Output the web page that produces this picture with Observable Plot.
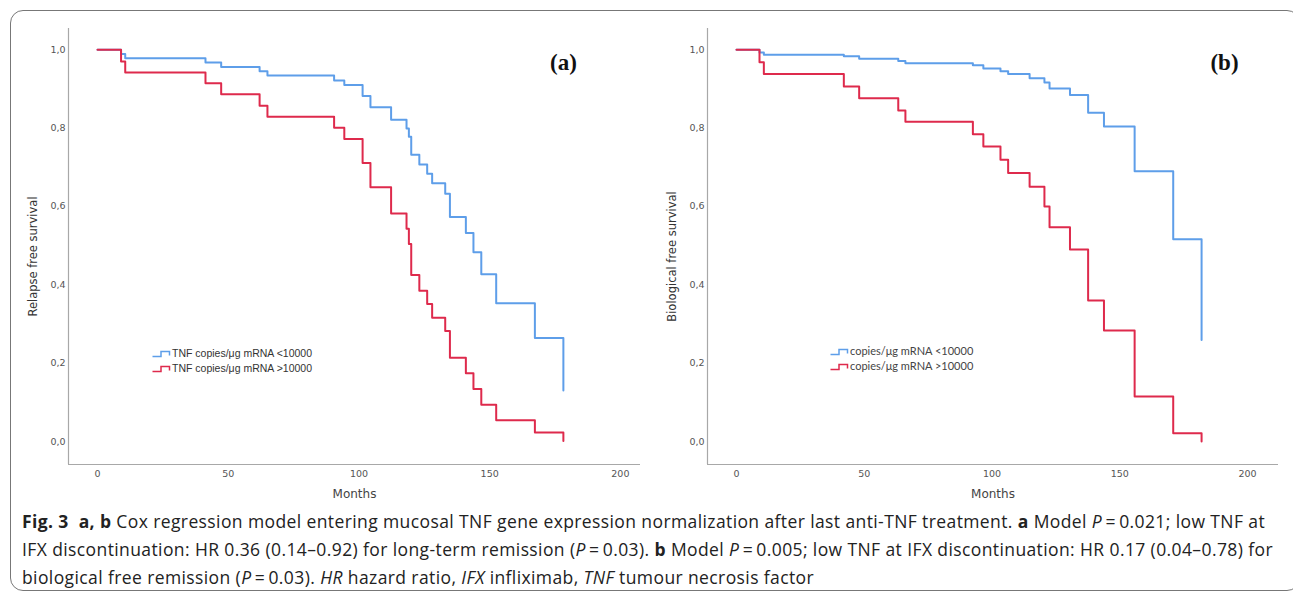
<!DOCTYPE html>
<html>
<head>
<meta charset="utf-8">
<script src="https://cdn.jsdelivr.net/npm/d3@7"></script>
<script src="https://cdn.jsdelivr.net/npm/@observablehq/plot@0.6"></script>
<style>
  html, body { margin: 0; padding: 0; background: #fff; }
  #wrap { position: relative; width: 1293px; height: 594px; overflow: hidden; font-family: "DejaVu Sans", sans-serif; }
  #frame { position: absolute; left: 10px; top: 10px; width: 1290px; height: 581px; border: 1px solid #777; border-radius: 13px; box-sizing: border-box; }
  .panel { position: absolute; top: 0; }
  .legend { position: absolute; font-family: "Liberation Sans", Arial, sans-serif; font-size: 10.5px; color: #333; line-height: 15px; white-space: nowrap; }
  .legend svg { vertical-align: -1px; margin-right: 1px; }
  #caption { position: absolute; left: 22px; top: 507px; font-family: "Open Sans", sans-serif; font-size: 17.5px; line-height: 28px; color: #222; white-space: nowrap; }
  #caption b { font-weight: 700; }
</style>
</head>
<body>
<div id="wrap">
  <div id="frame"></div>
  <div id="pa" class="panel" style="left:0px"></div>
  <div id="pb" class="panel" style="left:640px"></div>
  <div id="lega" class="legend" style="left:152px; top:346px"></div>
  <div id="legb" class="legend" style="left:830px; top:343px; font-family:'Lato',sans-serif; font-size:11px; color:#444"></div>
  <div id="caption"></div>
</div>
<script>
// ---- data ----
const aMonths = [0, 9, 10.6, 41.3, 47.3, 62, 65, 90.5, 94.4, 101.4, 104.4, 112.3, 118.2, 119.1, 120, 123.1, 126.1, 128, 133, 134.8, 140.9, 143.8, 146.8, 152.5, 167.3, 178.2];
const aLow  = [1.0, 0.989, 0.978, 0.967, 0.956, 0.945, 0.934, 0.921, 0.910, 0.882, 0.853, 0.821, 0.799, 0.778, 0.732, 0.707, 0.683, 0.659, 0.632, 0.573, 0.532, 0.483, 0.427, 0.353, 0.264, 0.130];
const aHigh = [1.0, 0.970, 0.942, 0.914, 0.886, 0.857, 0.829, 0.801, 0.772, 0.711, 0.649, 0.582, 0.543, 0.504, 0.425, 0.385, 0.351, 0.316, 0.282, 0.214, 0.174, 0.134, 0.094, 0.054, 0.023, 0.001];

const bMonths = [0, 9, 10.7, 42, 48, 63.3, 66.1, 92.5, 96.6, 103.3, 106.3, 114.7, 120.5, 122.5, 130.5, 137.6, 143.8, 155.8, 170.9, 182];
const bLow  = [1.0, 0.993, 0.987, 0.983, 0.977, 0.971, 0.965, 0.960, 0.952, 0.945, 0.938, 0.927, 0.916, 0.901, 0.884, 0.839, 0.804, 0.690, 0.516, 0.259];
const bHigh = [1.0, 0.968, 0.938, 0.906, 0.876, 0.845, 0.816, 0.784, 0.753, 0.719, 0.685, 0.650, 0.600, 0.547, 0.490, 0.360, 0.283, 0.115, 0.021, 0.0];

const xTicks = [0, 50, 100, 150, 200];
const yTicks = [0, 0.2, 0.4, 0.6, 0.8, 1.0];

const legendA = ["TNF copies/\u03bcg mRNA <10000", "TNF copies/\u03bcg mRNA >10000"];
const legendB = ["copies/\u03bcg mRNA <10000", "copies/\u03bcg mRNA >10000"];
const yTitleA = "Relapse free survival";
const yTitleB = "Biological free survival";
const xTitle = "Months";

const BLUE = "#5e9ee9";
const RED = "#de2a4c";
const AXIS = "#a8a8a8";

function rows(months, low, high) {
  const r = [];
  months.forEach((m, i) => r.push({month: m, surv: low[i], group: "low"}));
  months.forEach((m, i) => r.push({month: m, surv: high[i], group: "high"}));
  return r;
}

function panel({data, width, marginLeft, marginRight, xDomain, yTitle, tag, tagDx}) {
  const yDomain = [-0.0587, 1.054];
  return Plot.plot({
    width, height: 505,
    marginLeft, marginRight, marginTop: 28, marginBottom: 41,
    style: {fontFamily: "DejaVu Sans, sans-serif", background: "transparent", overflow: "visible"},
    x: {domain: xDomain},
    y: {domain: yDomain},
    color: {domain: ["low", "high"], range: [BLUE, RED]},
    marks: [
      Plot.ruleX([xDomain[0]], {stroke: AXIS, strokeWidth: 1.2}),
      Plot.ruleY([yDomain[0]], {stroke: AXIS, strokeWidth: 1.2}),
      Plot.axisX({ticks: xTicks, tickSize: 0, tickPadding: 6, fontSize: 9.5, fill: "#555", label: null}),
      Plot.axisY({ticks: yTicks, tickSize: 0, tickPadding: 3, fontSize: 9.5, fill: "#555", label: null,
        tickFormat: d => d.toFixed(1).replace(".", ",")}),
      Plot.line(data, {x: "month", y: "surv", z: "group", stroke: "group", curve: "step-after", strokeWidth: 2}),
      Plot.text([xTitle], {frameAnchor: "bottom", lineAnchor: "middle", dy: 30, fontSize: 12, fill: "#444"}),
      Plot.text([yTitle], {frameAnchor: "left", textAnchor: "middle", dx: -35, dy: 10, rotate: -90, fontSize: 11.5, fill: "#333"}),
      Plot.text([tag], {frameAnchor: "top-right", dx: tagDx, dy: 25, fontSize: 23, fontWeight: "bold",
        fontFamily: "Liberation Serif, serif", fill: "#111", textAnchor: "middle"})
    ]
  });
}

document.getElementById("pa").appendChild(panel({
  data: rows(aMonths, aLow, aHigh), width: 650, marginLeft: 68, marginRight: 10,
  xDomain: [-11.1, 207.7], yTitle: yTitleA, tag: "(a)", tagDx: -77
}));
document.getElementById("pb").appendChild(panel({
  data: rows(bMonths, bLow, bHigh), width: 653, marginLeft: 67, marginRight: 15,
  xDomain: [-11.35, 212.1], yTitle: yTitleB, tag: "(b)", tagDx: -54
}));

function sym(color) {
  return `<svg width="19" height="8"><path d="M0.5,6.5 H9 V1.5 H17.5 V5.5" fill="none" stroke="${color}" stroke-width="1.5"/></svg>`;
}
document.getElementById("lega").innerHTML = legendA.map((t, i) => `<div>${sym(i ? RED : BLUE)}${t}</div>`).join("");
document.getElementById("legb").innerHTML = legendB.map((t, i) => `<div>${sym(i ? RED : BLUE)}${t}</div>`).join("");

const captionLines = [
  '<b>Fig. 3</b>&nbsp;&nbsp;<b>a, b</b> Cox regression model entering mucosal TNF gene expression normalization after last anti-TNF treatment. <b>a</b> Model <i>P</i>\u2009=\u20090.021; low TNF at',
  'IFX discontinuation: HR 0.36 (0.14\u20130.92) for long-term remission (<i>P</i>\u2009=\u20090.03). <b>b</b> Model <i>P</i>\u2009=\u20090.005; low TNF at IFX discontinuation: HR 0.17 (0.04\u20130.78) for',
  'biological free remission (<i>P</i>\u2009=\u20090.03). <i>HR</i> hazard ratio, <i>IFX</i> infliximab, <i>TNF</i> tumour necrosis factor'
];
const cap = document.getElementById("caption");
cap.innerHTML = captionLines.map(l => `<div class="cl">${l}</div>`).join("");
// fit first line width to the reference (~1243px) by letter-spacing
const first = cap.querySelector(".cl");
const span = document.createElement("span");
span.innerHTML = captionLines[0];
span.style.whiteSpace = "nowrap";
first.innerHTML = ""; first.appendChild(span);
const w = span.getBoundingClientRect().width;
const n = span.textContent.length;
const ls = (1243 - w) / n;
cap.style.letterSpacing = ls.toFixed(3) + "px";
</script>
</body>
</html>
